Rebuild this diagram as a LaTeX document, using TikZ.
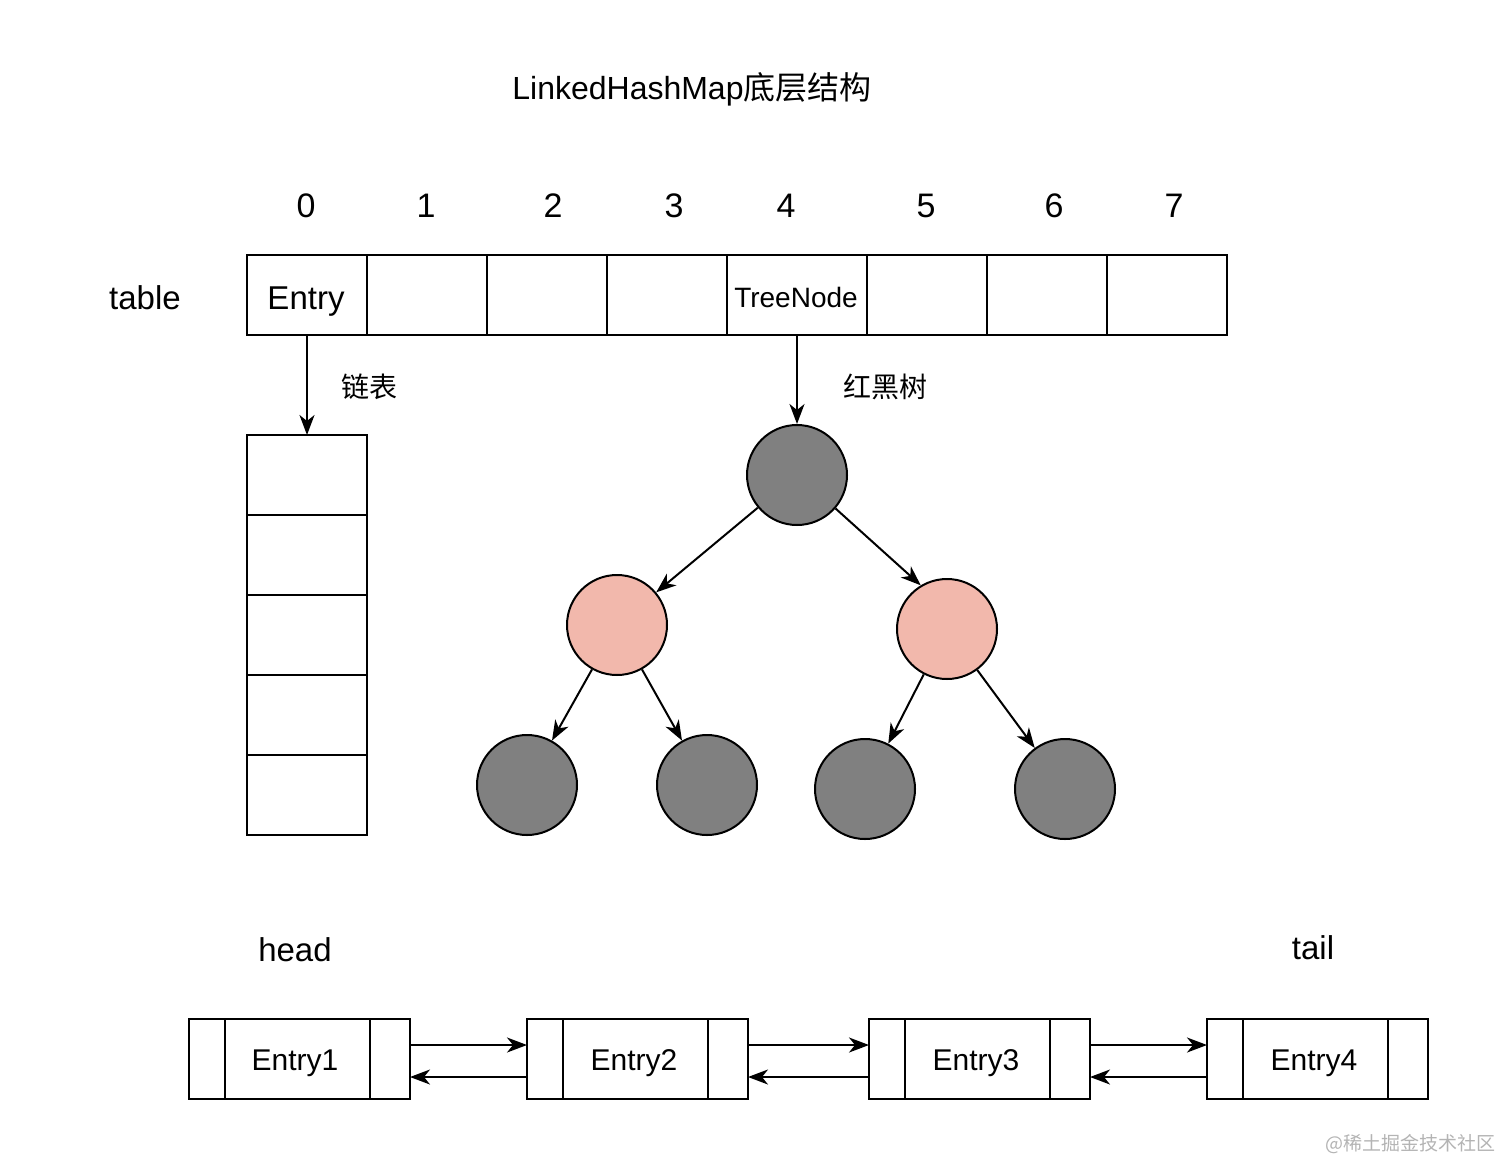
\documentclass[tikz,border=0pt]{standalone}
\usepackage{fontspec}
\setmainfont{Liberation Sans}
\newfontfamily\cjk{Noto Sans CJK SC}
\usetikzlibrary{arrows.meta}
\definecolor{blackfill}{HTML}{808080}
\definecolor{redfill}{HTML}{F2B8AC}
\definecolor{wmark}{HTML}{B4B4B4}
\tikzset{
  cell/.style={draw, minimum width=120pt, minimum height=80pt, inner sep=0pt, outer sep=0pt},
  wcell/.style={cell, minimum width=140pt},
  bnode/.style={draw, circle, minimum size=100pt, inner sep=0pt, fill=blackfill},
  rnode/.style={draw, circle, minimum size=100pt, inner sep=0pt, fill=redfill},
  entrybox/.style={draw, minimum width=221pt, minimum height=80pt, inner sep=0pt, outer sep=0pt},
  arr/.style={-{Stealth[length=20pt,width=15pt,inset=6pt]}},
  lbl/.style={inner sep=0pt, font=\fontsize{33}{40}\selectfont},
  idx/.style={inner sep=0pt, font=\fontsize{34}{40}\selectfont},
  etxt/.style={inner sep=0pt, anchor=base, font=\fontsize{30}{36}\selectfont},
  cjklbl/.style={inner sep=0pt, font=\cjk\fontsize{28}{34}\selectfont}
}
\begin{document}
\begin{tikzpicture}[x=1pt,y=-1pt,line width=2pt]
\useasboundingbox[fill=white] (0,0) rectangle (1496,1162);
% title
\node[inner sep=0pt, anchor=base, font=\fontsize{32}{38}\selectfont] (title) at (692,99) {LinkedHashMap{\cjk 底层结构}};
% indices
\node[idx] (i0) at (306,206) {0};
\node[idx] (i1) at (426,206) {1};
\node[idx] (i2) at (553,206) {2};
\node[idx] (i3) at (674,206) {3};
\node[idx] (i4) at (786,206) {4};
\node[idx] (i5) at (926,206) {5};
\node[idx] (i6) at (1054,206) {6};
\node[idx] (i7) at (1174,206) {7};
% table
\node[lbl] (tbl) at (145,298) {table};
\node[cell] (t0) at (307,295) {};
\node[cell] (t1) at (427,295) {};
\node[cell] (t2) at (547,295) {};
\node[cell] (t3) at (667,295) {};
\node[wcell] (t4) at (797,295) {};
\node[cell] (t5) at (927,295) {};
\node[cell] (t6) at (1047,295) {};
\node[cell] (t7) at (1167,295) {};
\node[inner sep=0pt, anchor=base, font=\fontsize{33}{40}\selectfont] (t0txt) at (306,309) {Entry};
\node[inner sep=0pt, anchor=base, font=\fontsize{28}{34}\selectfont] (t4txt) at (796,307) {TreeNode};
% linked list column
\node[cell] (l0) at (307,475) {};
\node[cell] (l1) at (307,555) {};
\node[cell] (l2) at (307,635) {};
\node[cell] (l3) at (307,715) {};
\node[cell] (l4) at (307,795) {};
\draw[arr] (t0.south) -- (l0.north);
\node[cjklbl] (lianbiao) at (369,387) {链表};
% red-black tree
\node[bnode] (root) at (797,475) {};
\node[rnode] (rl) at (617,625) {};
\node[rnode] (rr) at (947,629) {};
\node[bnode] (ll1) at (527,785) {};
\node[bnode] (ll2) at (707,785) {};
\node[bnode] (lr1) at (865,789) {};
\node[bnode] (lr2) at (1065,789) {};
\draw[arr] (t4.south) -- (root.north);
\node[cjklbl] (hhs) at (885,387) {红黑树};
\draw[arr] (root) -- (rl);
\draw[arr] (root.-41) -- (rr.121);
\draw[arr] (rl) -- (ll1);
\draw[arr] (rl) -- (ll2);
\draw[arr] (rr) -- (lr1);
\draw[arr] (rr) -- (lr2);
% doubly linked list
\node[lbl] (head) at (295,950) {head};
\node[lbl] (tail) at (1313,948) {tail};
\node[entrybox] (e1) at (299.5,1059) {};
\node[entrybox] (e2) at (637.5,1059) {};
\node[entrybox] (e3) at (979.5,1059) {};
\node[entrybox] (e4) at (1317.5,1059) {};
\node[etxt] (e1t) at (295,1070) {Entry1};
\node[etxt] (e2t) at (634,1070) {Entry2};
\node[etxt] (e3t) at (976,1070) {Entry3};
\node[etxt] (e4t) at (1314,1070) {Entry4};
\foreach \e in {e1,e2,e3,e4}{
  \draw ([xshift=36pt]\e.north west) -- ([xshift=36pt]\e.south west);
  \draw ([xshift=-40pt]\e.north east) -- ([xshift=-40pt]\e.south east);
}
\foreach \a/\b in {e1/e2,e2/e3,e3/e4}{
  \draw[arr] ([yshift=14pt]\a.east) -- ([yshift=14pt]\b.west);
  \draw[arr] ([yshift=-18pt]\b.west) -- ([yshift=-18pt]\a.east);
}
% watermark
\node[inner sep=0pt, text=wmark, font=\cjk\fontsize{19}{22}\selectfont] (wm) at (1410,1144) {@稀土掘金技术社区};
\end{tikzpicture}
\end{document}
